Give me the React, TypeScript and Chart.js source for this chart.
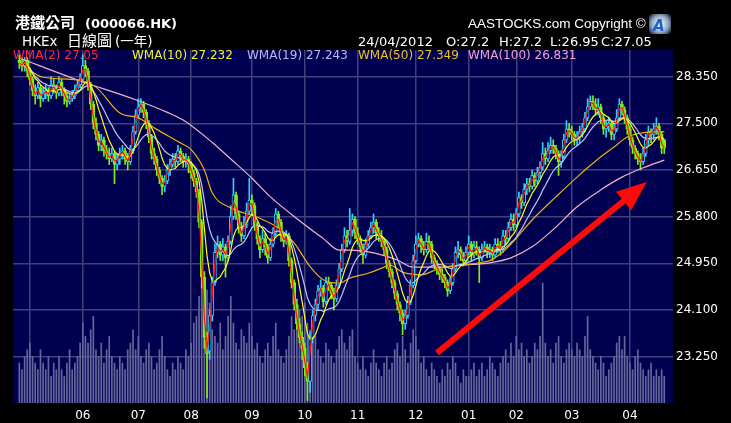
import React, { useEffect, useRef } from 'react';
import { Chart, registerables } from 'chart.js';

Chart.register(...registerables);

// ---- axis ticks ----
const monthTickDays = [4, 24, 45, 65, 88, 108, 128, 150, 170, 188, 209, 231];
const monthLabels = ['', '06', '07', '08', '09', '10', '11', '12', '01', '02', '03', '04'];
const priceTicks = [23.25, 24.1, 24.95, 25.8, 26.65, 27.5, 28.35];

// ---- daily OHLC (26/04/2011 .. 24/04/2012), one entry per trading day ----
const opens = [
  28.65, 28.60, 28.55, 28.65, 28.45, 28.30, 28.10, 28.00, 28.15, 27.95,
  28.05, 28.10, 28.00, 28.20, 28.15, 28.05, 28.25, 28.10, 28.00, 27.90,
  27.95, 28.00, 28.10, 28.20, 28.30, 28.55, 28.45, 28.20, 27.85, 27.50,
  27.30, 27.10, 27.20, 27.00, 26.95, 26.85, 26.95, 26.75, 26.85, 26.95,
  27.00, 26.85, 26.80, 27.00, 27.35, 27.65, 27.80, 27.85, 27.70, 27.50,
  27.25, 26.95, 26.85, 26.65, 26.50, 26.35, 26.45, 26.65, 26.75, 26.85,
  26.80, 27.00, 26.90, 26.80, 26.85, 26.75, 26.60, 26.45, 26.25, 25.70,
  24.70, 23.55, 23.35, 24.00, 24.60, 25.15, 25.30, 25.10, 25.25, 25.05,
  25.35, 25.80, 26.20, 25.85, 25.60, 25.45, 25.65, 25.90, 26.10, 26.00,
  25.65, 25.40, 25.20, 25.40, 25.25, 25.05, 25.30, 25.50, 25.85, 25.70,
  25.45, 25.35, 25.45, 25.00, 24.60, 24.20, 23.85, 23.60, 23.40, 23.05,
  22.80, 23.60, 24.00, 24.20, 24.45, 24.50, 24.25, 24.60, 24.55, 24.40,
  24.30, 24.55, 24.85, 25.20, 25.45, 25.35, 25.55, 25.75, 25.50, 25.40,
  25.25, 25.10, 25.30, 25.45, 25.60, 25.70, 25.50, 25.45, 25.35, 25.20,
  24.95, 24.80, 24.60, 24.40, 24.20, 24.05, 23.85, 24.00, 24.25, 24.55,
  25.00, 25.30, 25.40, 25.25, 25.20, 25.35, 25.30, 25.05, 24.95, 24.85,
  24.75, 24.70, 24.60, 24.45, 24.60, 24.85, 25.15, 25.20, 25.10, 25.00,
  25.15, 25.30, 25.10, 25.25, 25.20, 25.05, 25.20, 25.25, 25.15, 25.20,
  25.10, 25.30, 25.25, 25.20, 25.45, 25.40, 25.60, 25.75, 25.65, 25.85,
  26.15, 26.05, 26.30, 26.40, 26.35, 26.55, 26.45, 26.60, 26.70, 26.95,
  26.85, 27.00, 27.10, 27.05, 26.95, 26.80, 26.90, 27.20, 27.40, 27.35,
  27.30, 27.20, 27.25, 27.35, 27.40, 27.60, 27.80, 27.90, 27.85, 27.75,
  27.80, 27.60, 27.40, 27.45, 27.50, 27.30, 27.40, 27.60, 27.85, 27.75,
  27.60, 27.40, 27.20, 27.05, 26.95, 26.85, 26.80, 26.95, 27.20, 27.35,
  27.30, 27.40, 27.45, 27.30, 27.20,
];

const highs = [
  28.75, 28.70, 28.70, 28.70, 28.50, 28.35, 28.20, 28.25, 28.20, 28.15,
  28.20, 28.15, 28.35, 28.30, 28.20, 28.35, 28.30, 28.15, 28.05, 28.05,
  28.10, 28.20, 28.30, 28.40, 28.75, 28.65, 28.50, 28.25, 27.90, 27.60,
  27.35, 27.30, 27.25, 27.10, 27.05, 27.05, 27.00, 26.95, 27.05, 27.10,
  27.05, 26.95, 27.10, 27.45, 27.75, 27.95, 27.95, 27.90, 27.75, 27.55,
  27.30, 27.05, 26.90, 26.70, 26.55, 26.55, 26.75, 26.85, 26.95, 26.95,
  27.10, 27.05, 26.95, 26.95, 26.90, 26.80, 26.65, 26.50, 26.30, 25.75,
  24.80, 23.70, 24.10, 24.70, 25.30, 25.45, 25.35, 25.40, 25.30, 25.45,
  26.00, 26.50, 26.25, 25.90, 25.70, 25.80, 26.05, 26.50, 26.20, 26.05,
  25.70, 25.45, 25.55, 25.50, 25.30, 25.40, 25.60, 25.95, 25.90, 25.75,
  25.50, 25.55, 25.50, 25.05, 24.65, 24.30, 23.95, 23.70, 23.50, 23.15,
  23.70, 24.10, 24.30, 24.55, 24.65, 24.55, 24.70, 24.70, 24.60, 24.50,
  24.65, 24.95, 25.30, 25.60, 25.55, 25.95, 25.85, 25.80, 25.60, 25.45,
  25.30, 25.40, 25.55, 25.70, 25.85, 25.75, 25.60, 25.55, 25.40, 25.25,
  25.00, 24.85, 24.65, 24.45, 24.25, 24.10, 24.10, 24.35, 24.65, 25.10,
  25.45, 25.50, 25.45, 25.35, 25.50, 25.45, 25.35, 25.10, 25.00, 24.90,
  24.85, 24.75, 24.65, 24.70, 24.95, 25.25, 25.35, 25.25, 25.15, 25.25,
  25.45, 25.35, 25.35, 25.35, 25.25, 25.30, 25.35, 25.30, 25.30, 25.25,
  25.40, 25.40, 25.35, 25.55, 25.55, 25.70, 25.85, 25.85, 25.95, 26.25,
  26.20, 26.40, 26.50, 26.50, 26.65, 26.60, 26.70, 26.80, 27.15, 27.05,
  27.15, 27.25, 27.20, 27.10, 27.00, 27.00, 27.30, 27.55, 27.50, 27.45,
  27.35, 27.35, 27.45, 27.50, 27.70, 27.95, 28.00, 28.00, 27.95, 27.95,
  27.85, 27.65, 27.55, 27.60, 27.55, 27.50, 27.75, 27.95, 27.90, 27.80,
  27.65, 27.45, 27.25, 27.10, 27.00, 26.95, 27.05, 27.30, 27.45, 27.40,
  27.50, 27.60, 27.50, 27.35, 27.20,
];

const lows = [
  28.50, 28.45, 28.45, 28.35, 28.20, 28.00, 27.85, 27.95, 27.80, 27.90,
  27.95, 27.90, 27.95, 28.05, 27.95, 28.00, 28.00, 27.85, 27.80, 27.85,
  27.90, 27.95, 28.05, 28.15, 28.25, 28.35, 28.10, 27.75, 27.40, 27.20,
  27.00, 27.00, 26.90, 26.85, 26.75, 26.80, 26.40, 26.65, 26.75, 26.85,
  26.75, 26.65, 26.75, 26.95, 27.30, 27.60, 27.70, 27.60, 27.40, 27.15,
  26.85, 26.75, 26.55, 26.40, 26.20, 26.25, 26.40, 26.55, 26.70, 26.70,
  26.75, 26.80, 26.70, 26.70, 26.60, 26.50, 26.35, 26.15, 25.60, 24.50,
  23.40, 22.50, 23.20, 23.90, 24.55, 25.05, 25.00, 25.00, 24.70, 25.00,
  25.30, 25.75, 25.75, 25.50, 25.35, 25.40, 25.60, 25.85, 25.85, 25.55,
  25.30, 25.05, 25.15, 25.10, 24.95, 25.00, 25.25, 25.45, 25.60, 25.35,
  25.25, 25.30, 24.90, 24.50, 24.10, 23.75, 23.50, 23.20, 22.90, 22.45,
  22.60, 23.50, 23.90, 24.10, 24.35, 24.15, 24.20, 24.45, 24.30, 24.10,
  24.25, 24.50, 24.80, 25.15, 25.25, 25.30, 25.45, 25.40, 25.30, 25.15,
  24.95, 25.05, 25.25, 25.40, 25.50, 25.40, 25.35, 25.25, 25.10, 24.85,
  24.70, 24.50, 24.30, 24.10, 23.90, 23.65, 23.75, 23.95, 24.20, 24.50,
  24.95, 25.25, 25.15, 25.10, 25.15, 25.20, 24.95, 24.85, 24.75, 24.65,
  24.60, 24.50, 24.35, 24.40, 24.55, 24.80, 25.05, 25.00, 24.90, 24.95,
  25.10, 25.00, 25.05, 25.10, 24.60, 25.00, 25.15, 25.05, 25.05, 25.00,
  25.05, 25.15, 25.10, 25.15, 25.30, 25.35, 25.55, 25.55, 25.60, 25.80,
  25.95, 26.00, 26.20, 26.25, 26.30, 26.35, 26.40, 26.50, 26.65, 26.75,
  26.80, 26.95, 26.95, 26.85, 26.55, 26.70, 26.85, 27.15, 27.25, 27.20,
  27.10, 27.10, 27.15, 27.25, 27.35, 27.55, 27.75, 27.75, 27.65, 27.65,
  27.50, 27.30, 27.25, 27.35, 27.20, 27.20, 27.35, 27.55, 27.65, 27.50,
  27.30, 27.10, 26.95, 26.85, 26.75, 26.65, 26.75, 26.90, 27.10, 27.15,
  27.20, 27.30, 27.20, 26.95, 26.95,
];

const closes = [
  28.60, 28.55, 28.65, 28.45, 28.30, 28.10, 28.00, 28.15, 27.95, 28.05,
  28.10, 28.00, 28.20, 28.15, 28.05, 28.25, 28.10, 28.00, 27.90, 27.95,
  28.00, 28.10, 28.20, 28.30, 28.55, 28.45, 28.20, 27.85, 27.50, 27.30,
  27.10, 27.20, 27.00, 26.95, 26.85, 26.95, 26.75, 26.85, 26.95, 27.00,
  26.85, 26.80, 27.00, 27.35, 27.65, 27.80, 27.85, 27.70, 27.50, 27.25,
  26.95, 26.85, 26.65, 26.50, 26.35, 26.45, 26.65, 26.75, 26.85, 26.80,
  27.00, 26.90, 26.80, 26.85, 26.75, 26.60, 26.45, 26.25, 25.70, 24.70,
  23.60, 23.30, 24.00, 24.60, 25.15, 25.30, 25.10, 25.25, 25.05, 25.35,
  25.80, 26.20, 25.85, 25.60, 25.45, 25.65, 25.90, 26.10, 26.00, 25.65,
  25.40, 25.20, 25.40, 25.25, 25.05, 25.30, 25.50, 25.85, 25.70, 25.45,
  25.35, 25.45, 25.00, 24.60, 24.20, 23.85, 23.60, 23.40, 23.05, 22.80,
  23.60, 24.00, 24.20, 24.45, 24.50, 24.25, 24.60, 24.55, 24.40, 24.30,
  24.55, 24.85, 25.20, 25.45, 25.35, 25.55, 25.75, 25.50, 25.40, 25.25,
  25.10, 25.30, 25.45, 25.60, 25.70, 25.50, 25.45, 25.35, 25.20, 24.95,
  24.80, 24.60, 24.40, 24.20, 24.05, 23.85, 24.00, 24.25, 24.55, 25.00,
  25.30, 25.40, 25.25, 25.20, 25.35, 25.30, 25.05, 24.95, 24.85, 24.75,
  24.70, 24.60, 24.45, 24.60, 24.85, 25.15, 25.20, 25.10, 25.00, 25.15,
  25.30, 25.10, 25.25, 25.20, 25.05, 25.20, 25.25, 25.15, 25.20, 25.10,
  25.30, 25.25, 25.20, 25.45, 25.40, 25.60, 25.75, 25.65, 25.85, 26.15,
  26.05, 26.30, 26.40, 26.35, 26.55, 26.45, 26.60, 26.70, 26.95, 26.85,
  27.00, 27.10, 27.05, 26.95, 26.80, 26.90, 27.20, 27.40, 27.35, 27.30,
  27.20, 27.25, 27.35, 27.40, 27.60, 27.80, 27.90, 27.85, 27.75, 27.80,
  27.60, 27.40, 27.45, 27.50, 27.30, 27.40, 27.60, 27.85, 27.75, 27.60,
  27.40, 27.20, 27.05, 26.95, 26.85, 26.80, 26.95, 27.20, 27.35, 27.30,
  27.40, 27.45, 27.30, 27.05, 27.05,
];

// daily turnover (million shares)
const volumes = [
  6, 5, 7, 8,
  9, 7, 6, 5, 8, 6, 5, 7, 4, 6, 5, 7, 5, 4, 6, 8, 5, 6, 7, 9,
  12, 10, 9, 11, 13, 8, 7, 9, 6, 8, 10, 7, 6, 5, 7, 6, 5, 8, 9, 11, 8,
  10, 7, 6, 8, 9, 7, 5, 6, 8, 10, 7, 5, 4, 6, 5, 7, 6, 5, 8, 7,
  9, 12, 13, 16, 18, 14, 17, 15, 11, 10, 9, 12, 8, 10, 13, 16, 12, 9, 8, 11, 10, 9, 12,
  10, 8, 9, 7, 6, 8, 9, 7, 10, 12, 8, 7, 6, 8, 10, 13, 11, 12, 14, 13,
  15, 12, 11, 9, 10, 8, 7, 6, 9, 8, 7, 6, 8, 10, 11, 9, 8, 10, 11, 7,
  6, 5, 7, 5, 4, 6, 8, 6, 5, 4, 6, 7, 5, 6, 8, 9, 7, 10, 8, 6, 9, 11,
  10, 8, 6, 7, 5, 4, 6, 5, 4, 3, 5, 4, 6, 5, 7, 6, 4, 3, 5, 4,
  4, 5, 6, 4, 5, 6, 4, 5, 7, 6, 5, 4, 6, 7, 8, 6, 9, 7,
  10, 8, 9, 7, 8, 6, 7, 9, 8, 10, 18, 9, 7, 8, 6, 9, 10, 7, 6, 8, 9,
  8, 7, 9, 8, 7, 10, 13, 8, 7, 6, 5, 7, 6, 4, 5, 6, 7, 9, 10, 8, 10, 7,
  6, 5, 7, 8, 6, 5, 4, 5, 6, 4, 5, 4, 5, 4,
];

// long moving averages (day index -> value)
const wma50Days = [0, 9, 22, 29, 38, 45, 52, 61, 65, 70, 73, 80, 90, 99, 104, 110, 115, 121, 125, 132, 138, 140, 145, 152, 159, 168, 175, 178, 182, 186, 194, 203, 211, 220, 225, 230, 235, 244];
const wma50Values = [28.60, 28.34, 28.29, 28.16, 27.69, 27.60, 27.39, 27.14, 27.02, 26.65, 26.23, 25.96, 25.79, 25.56, 25.32, 24.89, 24.65, 24.59, 24.68, 24.77, 24.88, 24.92, 24.79, 24.74, 24.86, 24.92, 24.97, 25.00, 25.12, 25.30, 25.74, 26.16, 26.52, 26.89, 27.07, 27.25, 27.32, 27.35];
const wma100Days = [0, 22, 44, 56, 62, 73, 80, 88, 95, 107, 115, 121, 125, 134, 143, 149, 159, 168, 178, 186, 194, 203, 211, 220, 228, 236, 244];
const wma100Values = [28.69, 28.29, 27.93, 27.70, 27.56, 27.15, 26.85, 26.50, 26.16, 25.69, 25.40, 25.19, 25.19, 25.14, 25.01, 24.88, 24.88, 24.92, 24.96, 25.05, 25.25, 25.61, 25.98, 26.29, 26.52, 26.69, 26.83];

// header / legend text values
const legendNames = ['WMA(2)', 'WMA(10)', 'WMA(19)', 'WMA(50)', 'WMA(100)'];
const legendValues = ['27.05', '27.232', '27.243', '27.349', '26.831'];
const legendColors = ['#ff2a2a', '#f4f41c', '#b8b8f4', '#f0c21a', '#f4a0c8'];
const quoteDate = '24/04/2012';
const quoteParts = ['O:27.2', 'H:27.2', 'L:26.95', 'C:27.05'];

// annotation arrow, in data coordinates (day index, price)
const arrowFrom = { x: 158, y: 23.32 };
const arrowTo = { x: 237.4, y: 26.43 };

const NAVY = '#000050';
const GRID = '#414178';
const UP = '#2ed0ff';
const DOWN = '#84ee10';

function wma(src: number[], n: number): number[] {
  return src.map((_, t) => {
    let num = 0;
    let den = 0;
    for (let k = 0; k < n && t - k >= 0; k++) {
      const w = n - k;
      num += w * src[t - k];
      den += w;
    }
    return num / den;
  });
}

const chromePlugin = {
  id: 'chrome',
  beforeDraw(chart: any) {
    const { ctx, chartArea: a, width, height } = chart;
    ctx.save();
    ctx.fillStyle = '#000000';
    ctx.fillRect(0, 0, width, height);
    ctx.fillStyle = NAVY;
    ctx.fillRect(a.left, a.top, a.right - a.left, a.bottom - a.top);
    ctx.restore();
  },
  afterDatasetsDraw(chart: any) {
    const { ctx } = chart;
    const xs = chart.scales.x;
    const ys = chart.scales.y;
    const x1 = xs.getPixelForValue(arrowFrom.x);
    const y1 = ys.getPixelForValue(arrowFrom.y);
    const x2 = xs.getPixelForValue(arrowTo.x);
    const y2 = ys.getPixelForValue(arrowTo.y);
    const dx = x2 - x1;
    const dy = y2 - y1;
    const len = Math.hypot(dx, dy);
    const ux = dx / len;
    const uy = dy / len;
    const px = -uy;
    const py = ux;
    const headLen = 30;
    const headHalf = 12;
    const bx = x2 - ux * headLen;
    const by = y2 - uy * headLen;
    ctx.save();
    ctx.strokeStyle = '#ff0a0a';
    ctx.fillStyle = '#ff0a0a';
    ctx.lineWidth = 6;
    ctx.beginPath();
    ctx.moveTo(x1, y1);
    ctx.lineTo(bx + ux * 3, by + uy * 3);
    ctx.stroke();
    ctx.beginPath();
    ctx.moveTo(x2, y2);
    ctx.lineTo(bx + px * headHalf, by + py * headHalf);
    ctx.lineTo(bx - px * headHalf, by - py * headHalf);
    ctx.closePath();
    ctx.fill();
    ctx.restore();
  },
  afterDraw(chart: any) {
    const { ctx } = chart;
    ctx.save();
    ctx.textBaseline = 'alphabetic';
    ctx.textAlign = 'left';
    ctx.fillStyle = '#ffffff';
    // title
    ctx.font = 'bold 15px "Noto Sans CJK TC", "Noto Sans CJK SC", sans-serif';
    ctx.fillText('港鐵公司', 15, 28);
    ctx.font = 'bold 13px "DejaVu Sans", sans-serif';
    ctx.fillText('(000066.HK)', 85, 28);
    // subtitle
    ctx.font = '13.5px "DejaVu Sans", sans-serif';
    ctx.fillText('HKEx', 22, 46);
    ctx.font = '15px "Noto Sans CJK TC", "Noto Sans CJK SC", sans-serif';
    ctx.fillText('日線圖', 67, 46);
    ctx.font = '13.5px "DejaVu Sans", "Noto Sans CJK TC", sans-serif';
    ctx.fillText('(一年)', 115, 46);
    // quote line
    ctx.font = '13px "DejaVu Sans", sans-serif';
    ctx.fillText(quoteDate, 358, 46);
    const qx = [446, 499, 550, 601];
    quoteParts.forEach((t, i) => ctx.fillText(t, qx[i], 46));
    // copyright
    ctx.font = '13.5px "Liberation Sans", Arial, sans-serif';
    ctx.fillText('AASTOCKS.com Copyright \u00a9', 468, 28);
    // logo
    const g = ctx.createRadialGradient(660, 24, 2, 660, 24, 13);
    g.addColorStop(0, '#e8f0f8');
    g.addColorStop(0.6, '#8aa4c0');
    g.addColorStop(1, '#2a3550');
    ctx.fillStyle = g;
    ctx.beginPath();
    ctx.roundRect(649, 14, 22, 20, 4);
    ctx.fill();
    ctx.fillStyle = '#1f5fc8';
    ctx.font = 'bold italic 15px "DejaVu Sans", sans-serif';
    ctx.fillText('A', 653, 31);
    // legend row
    const lx = [13, 132, 247, 358, 468];
    ctx.font = '12px "DejaVu Sans", sans-serif';
    legendNames.forEach((n, i) => {
      ctx.fillStyle = legendColors[i];
      ctx.fillText(n + ' ' + legendValues[i], lx[i], 58.5);
    });
    ctx.restore();
  },
};

export default function App() {
  const ref = useRef<HTMLCanvasElement | null>(null);

  useEffect(() => {
    if (!ref.current) return;
    const idx = closes.map((_, i) => i);
    const isUp = (i: number) => closes[i] >= opens[i] && !(i === closes.length - 1);
    const up = idx.map((i) => closes[i] > opens[i]);
    void isUp;
    const w2 = wma(closes, 2);
    const w10 = wma(closes, 10);
    const w19 = wma(closes, 19);

    const lineDs = (label: string, pts: { x: number; y: number }[], color: string, order: number, width = 1.2, smooth = false) => ({
      type: 'line' as const,
      label,
      data: pts,
      borderColor: color,
      borderWidth: width,
      pointRadius: 0,
      fill: false,
      tension: 0,
      cubicInterpolationMode: smooth ? ('monotone' as const) : ('default' as const),
      yAxisID: 'y',
      order,
    });

    const chart = new Chart(ref.current, {
      type: 'bar',
      data: {
        datasets: [
          {
            type: 'bar',
            label: 'Volume',
            data: idx.map((i) => ({ x: i, y: volumes[i] })),
            backgroundColor: '#66669c',
            barThickness: 1,
            grouped: false,
            yAxisID: 'yv',
            order: 10,
          } as any,
          {
            type: 'bar',
            label: 'Wick',
            data: idx.map((i) => ({ x: i, y: [lows[i], highs[i]] })),
            backgroundColor: idx.map((i) => (up[i] ? UP : DOWN)),
            barThickness: 1,
            grouped: false,
            yAxisID: 'y',
            order: 9,
          } as any,
          {
            type: 'bar',
            label: 'Body',
            data: idx.map((i) => ({ x: i, y: [opens[i], closes[i]] })),
            backgroundColor: idx.map((i) => (up[i] ? NAVY : DOWN)),
            borderColor: idx.map((i) => (up[i] ? UP : DOWN)),
            borderWidth: 1,
            borderSkipped: false,
            minBarLength: 1,
            barThickness: 3,
            grouped: false,
            yAxisID: 'y',
            order: 8,
          } as any,
          lineDs('WMA(100)', wma100Days.map((d, k) => ({ x: d, y: wma100Values[k] })), '#f2b4c6', 5, 1.2, true) as any,
          lineDs('WMA(50)', wma50Days.map((d, k) => ({ x: d, y: wma50Values[k] })), '#eab010', 4, 1.2, true) as any,
          lineDs('WMA(19)', idx.map((i) => ({ x: i, y: w19[i] })), '#c4c4f0', 3) as any,
          lineDs('WMA(10)', idx.map((i) => ({ x: i, y: w10[i] })), '#ffff10', 2) as any,
          lineDs('WMA(2)', idx.map((i) => ({ x: i, y: w2[i] })), '#ff1010', 1) as any,
        ],
      },
      options: {
        responsive: false,
        animation: false,
        devicePixelRatio: 1,
        events: [],
        layout: { padding: { left: 13, top: 50, right: 0, bottom: 0 } },
        plugins: { legend: { display: false }, tooltip: { enabled: false } },
        scales: {
          x: {
            type: 'linear',
            min: -2.4,
            max: 247.3,
            offset: false,
            grid: { color: GRID, lineWidth: 1.5, drawTicks: false, offset: false },
            border: { display: false },
            ticks: {
              color: '#ffffff',
              font: { family: '"DejaVu Sans", sans-serif', size: 12 },
              padding: 6,
              autoSkip: false,
              maxRotation: 0,
              callback: (_v: any, i: number) => monthLabels[i] ?? '',
            },
            afterBuildTicks: (s: any) => {
              s.ticks = monthTickDays.map((v) => ({ value: v }));
            },
            afterFit: (s: any) => {
              s.height = 20;
            },
          },
          y: {
            type: 'linear',
            position: 'right',
            min: 22.406,
            max: 28.836,
            grid: { color: GRID, lineWidth: 1.5, drawTicks: false },
            border: { display: false },
            ticks: {
              color: '#ffffff',
              font: { family: '"DejaVu Sans", sans-serif', size: 12 },
              padding: 3,
              callback: (v: any) => Number(v).toFixed(3),
            },
            afterBuildTicks: (s: any) => {
              s.ticks = priceTicks.map((v) => ({ value: v }));
            },
            afterFit: (s: any) => {
              s.width = 58;
            },
          },
          yv: {
            type: 'linear',
            display: false,
            min: 0,
            max: 53,
          },
        },
      } as any,
      plugins: [chromePlugin],
    });
    return () => chart.destroy();
  }, []);

  return (
    <div style={{ position: 'fixed', left: 0, top: 0, width: 731, height: 423, background: '#000' }}>
      <canvas ref={ref} width={731} height={423} style={{ display: 'block', width: 731, height: 423 }} />
    </div>
  );
}
